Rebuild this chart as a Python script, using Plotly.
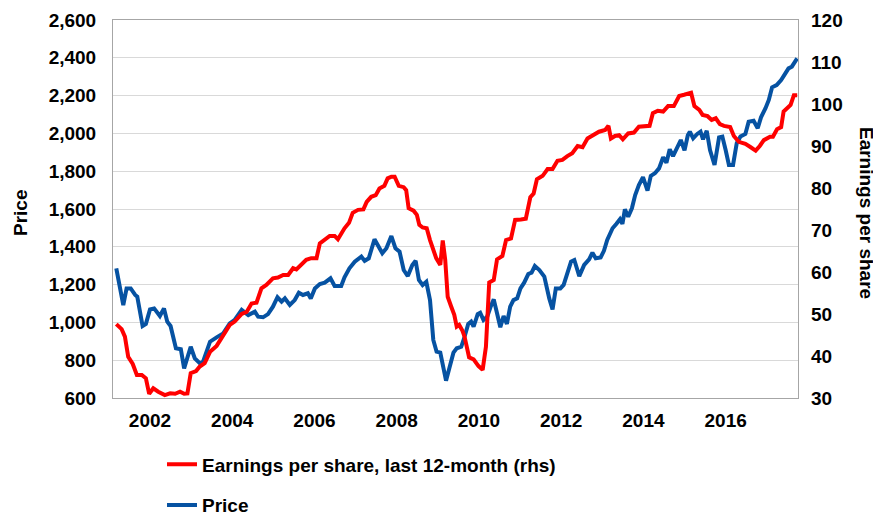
import plotly.graph_objects as go

# ---------------- data ----------------
price_years = [
    2001.18, 2001.35, 2001.43, 2001.53, 2001.64, 2001.69, 2001.82, 2001.90,
    2002.00, 2002.10, 2002.24, 2002.34, 2002.42, 2002.50, 2002.63, 2002.75,
    2002.83, 2002.99, 2003.09, 2003.21, 2003.29, 2003.46, 2003.62, 2003.78,
    2003.94, 2004.06, 2004.23, 2004.39, 2004.55, 2004.63, 2004.75, 2004.87,
    2004.99, 2005.10, 2005.20, 2005.28, 2005.40, 2005.52, 2005.62, 2005.72,
    2005.84, 2005.91, 2006.01, 2006.13, 2006.25, 2006.39, 2006.49, 2006.65,
    2006.73, 2006.85, 2006.98, 2007.14, 2007.22, 2007.32, 2007.46, 2007.54,
    2007.65, 2007.75, 2007.87, 2007.97, 2008.07, 2008.17, 2008.27, 2008.38,
    2008.46, 2008.54, 2008.63, 2008.72, 2008.81, 2008.89, 2008.97, 2009.06,
    2009.12, 2009.20, 2009.28, 2009.38, 2009.46, 2009.57, 2009.65, 2009.74,
    2009.81, 2009.87, 2009.97, 2010.03, 2010.11, 2010.20, 2010.28, 2010.36,
    2010.44, 2010.52, 2010.60, 2010.68, 2010.76, 2010.84, 2010.93, 2011.01,
    2011.10, 2011.20, 2011.28, 2011.36, 2011.47, 2011.59, 2011.71, 2011.79,
    2011.87, 2011.98, 2012.06, 2012.15, 2012.24, 2012.32, 2012.44, 2012.56,
    2012.68, 2012.76, 2012.84, 2012.96, 2013.04, 2013.12, 2013.25, 2013.34,
    2013.43, 2013.49, 2013.55, 2013.63, 2013.72, 2013.80, 2013.89, 2013.99,
    2014.10, 2014.18, 2014.28, 2014.38, 2014.48, 2014.56, 2014.64, 2014.72,
    2014.82, 2014.91, 2015.00, 2015.08, 2015.13, 2015.21, 2015.31, 2015.39,
    2015.45, 2015.54, 2015.62, 2015.73, 2015.84, 2015.92, 2016.00, 2016.08,
    2016.18, 2016.27, 2016.36, 2016.48, 2016.56, 2016.68, 2016.78, 2016.86,
    2016.97, 2017.05, 2017.13, 2017.24, 2017.35, 2017.41, 2017.53, 2017.61,
    2017.74,
]
price_values = [
    1286, 1092, 1180, 1180, 1145, 1136, 981, 992,
    1069, 1074, 1034, 1074, 1004, 981, 863, 858,
    757, 871, 810, 784, 792, 898, 921, 942,
    995, 1013, 1066, 1039, 1057, 1030, 1027, 1044,
    1083, 1133, 1110, 1127, 1092, 1118, 1157, 1145,
    1154, 1127, 1180, 1203, 1210, 1233, 1193, 1193,
    1239, 1286, 1321, 1348, 1326, 1339, 1440, 1410,
    1366, 1392, 1457, 1392, 1374, 1277, 1245, 1304,
    1326, 1224, 1198, 1215, 1118, 907, 845, 840,
    784, 692, 757, 840, 863, 871, 924, 992,
    1004, 977, 1044, 1051, 1013, 1030, 1080, 1122,
    1048, 974, 1034, 992, 1083, 1118, 1127, 1180,
    1210, 1256, 1263, 1298, 1277, 1242, 1127, 1069,
    1180, 1180, 1198, 1260, 1321, 1330, 1245, 1304,
    1334, 1369, 1339, 1344, 1379, 1436, 1498, 1521,
    1546, 1521, 1598, 1559, 1604, 1674, 1727, 1768,
    1697, 1775, 1789, 1815, 1874, 1845, 1916, 1880,
    1930, 1965, 1910, 1990, 2009, 1974, 1997, 2009,
    1969, 2014, 1912, 1833, 1979, 1983, 1912, 1833,
    1833, 1948, 1983, 1997, 2062, 2067, 2027, 2085,
    2133, 2177, 2244, 2256, 2282, 2304, 2344, 2353,
    2397,
]

eps_years = [
    2001.18, 2001.31, 2001.39, 2001.47, 2001.58, 2001.68, 2001.80, 2001.90,
    2001.98, 2002.08, 2002.20, 2002.36, 2002.49, 2002.61, 2002.73, 2002.83,
    2002.91, 2002.99, 2003.12, 2003.21, 2003.33, 2003.46, 2003.62, 2003.78,
    2003.94, 2004.06, 2004.23, 2004.35, 2004.47, 2004.59, 2004.71, 2004.83,
    2004.99, 2005.11, 2005.24, 2005.36, 2005.48, 2005.56, 2005.68, 2005.80,
    2005.92, 2006.05, 2006.13, 2006.25, 2006.37, 2006.49, 2006.57, 2006.73,
    2006.84, 2006.93, 2007.06, 2007.19, 2007.27, 2007.38, 2007.49, 2007.58,
    2007.70, 2007.78, 2007.87, 2007.95, 2008.05, 2008.17, 2008.23, 2008.29,
    2008.41, 2008.49, 2008.55, 2008.63, 2008.73, 2008.81, 2008.89, 2008.96,
    2009.06, 2009.12, 2009.18, 2009.24, 2009.32, 2009.40, 2009.46, 2009.52,
    2009.60, 2009.65, 2009.76, 2009.87, 2009.99, 2010.09, 2010.17, 2010.25,
    2010.36, 2010.44, 2010.57, 2010.66, 2010.78, 2010.88, 2011.02, 2011.14,
    2011.25, 2011.33, 2011.41, 2011.55, 2011.67, 2011.79, 2011.91, 2012.03,
    2012.15, 2012.27, 2012.40, 2012.52, 2012.64, 2012.76, 2012.92, 2013.07,
    2013.15, 2013.21, 2013.31, 2013.41, 2013.50, 2013.63, 2013.77, 2013.89,
    2014.01, 2014.15, 2014.23, 2014.35, 2014.48, 2014.60, 2014.74, 2014.87,
    2014.99, 2015.16, 2015.24, 2015.36, 2015.44, 2015.56, 2015.66, 2015.76,
    2015.86, 2015.96, 2016.11, 2016.20, 2016.32, 2016.48, 2016.61, 2016.73,
    2016.83, 2016.93, 2017.08, 2017.15, 2017.25, 2017.35, 2017.41, 2017.50,
    2017.58, 2017.66, 2017.74,
]
eps_values = [
    47.6, 46.4, 44.6, 39.8, 38.1, 35.5, 35.5, 34.7,
    31.0, 32.3, 31.5, 30.7, 31.1, 31.0, 31.5, 31.0,
    31.1, 35.9, 36.4, 37.5, 38.3, 41.0, 42.4, 44.8,
    47.4, 48.2, 50.0, 50.5, 52.5, 52.7, 56.1, 56.9,
    58.5, 58.7, 59.3, 59.3, 60.9, 60.6, 61.7, 62.9,
    63.3, 63.3, 66.8, 67.6, 68.6, 68.6, 67.8, 70.4,
    71.7, 74.1, 74.8, 74.9, 76.7, 77.9, 78.3, 79.9,
    80.5, 82.3, 82.7, 82.7, 80.5, 80.2, 79.5, 75.2,
    74.6, 73.6, 71.2, 70.6, 70.4, 67.6, 65.6, 63.3,
    61.7, 67.5, 62.9, 54.1, 51.9, 49.8, 47.0, 47.4,
    46.0, 44.6, 39.7, 39.2, 37.6, 36.7, 42.2, 57.5,
    58.1, 63.0, 63.8, 67.6, 68.0, 72.4, 72.5, 72.7,
    77.8, 78.7, 82.1, 82.9, 84.5, 84.5, 86.5, 86.7,
    87.6, 88.3, 90.0, 89.7, 91.8, 92.6, 93.4, 93.8,
    94.8, 91.8, 92.4, 92.6, 91.6, 93.0, 93.2, 94.6,
    94.8, 94.8, 97.8, 98.4, 98.2, 99.5, 99.5, 101.9,
    102.2, 102.7, 99.5, 98.6, 97.4, 97.1, 96.2, 96.6,
    95.2, 94.8, 94.5, 92.4, 91.0, 90.5, 89.7, 88.9,
    90.0, 91.4, 92.2, 92.2, 94.0, 94.5, 98.2, 99.0,
    99.8, 102.1, 102.1,
]

year_ticks = [2002, 2004, 2006, 2008, 2010, 2012, 2014, 2016]
year_labels = ["2002", "2004", "2006", "2008", "2010", "2012", "2014", "2016"]

# ---------------- styling ----------------
FONT = "Liberation Sans, Arial, sans-serif"
BLUE = "#0652a2"
RED = "#ff0000"
GRID = "#d9d9d9"
FRAME = "#a6a6a6"
fsize = 19

fig = go.Figure()
fig.add_trace(go.Scatter(
    x=price_years, y=price_values, name="Price", mode="lines",
    line=dict(color=BLUE, width=4), yaxis="y", legendgroup="b", legendrank=2,
))
fig.add_trace(go.Scatter(
    x=eps_years, y=eps_values, name="Earnings per share, last 12-month (rhs)",
    mode="lines", line=dict(color=RED, width=4), yaxis="y2",
    legendgroup="a", legendrank=1,
))

tickfont = dict(family=FONT, size=fsize, color="#000000", weight="bold")

# page body adds an 8px offset; figure is sized to fit the 881x517 window
fig.update_layout(
    width=873, height=509,
    margin=dict(l=105, r=83, t=12, b=119, autoexpand=False),
    paper_bgcolor="white", plot_bgcolor="white",
    font=dict(family=FONT, size=fsize, color="#000000"),
    xaxis=dict(
        range=[2001.1, 2017.76], tickmode="array", tickvals=year_ticks,
        ticktext=year_labels, showgrid=False, zeroline=False,
        showline=True, linecolor=FRAME, linewidth=1, mirror=True,
        ticks="", tickfont=tickfont, ticklabelstandoff=5, automargin=False,
    ),
    yaxis=dict(
        range=[600, 2600], dtick=200, tick0=600, tickformat=",d",
        showgrid=True, gridcolor=GRID, gridwidth=1, zeroline=False,
        showline=True, linecolor=FRAME, linewidth=1, mirror=True,
        ticks="", tickfont=tickfont, ticklabelstandoff=12, automargin=False,
    ),
    yaxis2=dict(
        range=[30, 120], dtick=10, tick0=30, overlaying="y", side="right",
        showgrid=False, zeroline=False, showline=False,
        ticks="", tickfont=tickfont, ticklabelstandoff=12, automargin=False,
    ),
    legend=dict(
        xref="container", yref="container",
        x=0.1764, y=0.1405, xanchor="left", yanchor="top",
        font=dict(family=FONT, size=fsize, color="#000000", weight="bold"),
        tracegroupgap=13, bgcolor="rgba(0,0,0,0)",
    ),
    showlegend=True,
    annotations=[
        dict(text="Price", xref="paper", yref="paper", x=-0.134, y=0.49,
             xanchor="center", yanchor="middle",
             textangle=-90, showarrow=False,
             font=dict(family=FONT, size=fsize, color="#000000", weight="bold")),
        dict(text="Earnings per share", xref="paper", yref="paper", x=1.099, y=0.49,
             xanchor="center", yanchor="middle",
             textangle=90, showarrow=False,
             font=dict(family=FONT, size=fsize, color="#000000", weight="bold")),
    ],
)

fig.write_html("out.html")
